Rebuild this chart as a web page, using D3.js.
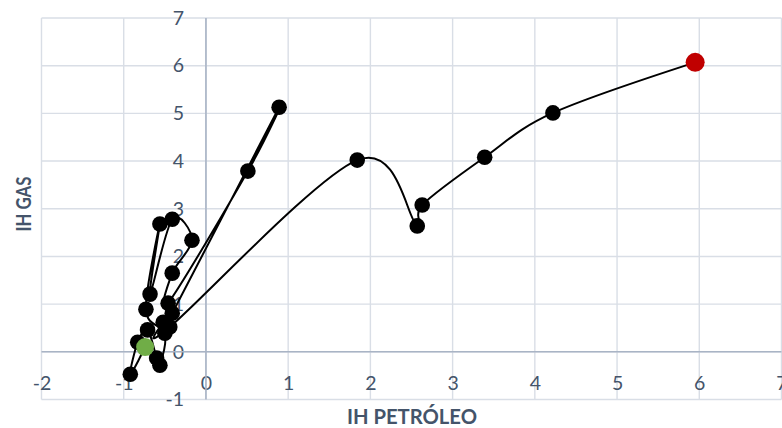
<!DOCTYPE html>
<html>
<head>
<meta charset="utf-8">
<script src="https://cdn.jsdelivr.net/npm/d3@7"></script>
<style>
  html, body { margin: 0; padding: 0; background: #ffffff; }
  svg { display: block; }
</style>
</head>
<body>
<svg id="chart" width="782" height="428"></svg>
<script>
// Trajectory of the two indices, in chronological order (first point green, last point red)
const ihPetroleo = [-0.74, -0.92, -0.83, -0.71, -0.60, -0.56, -0.50, -0.73, -0.56, -0.68,
                    -0.41, -0.17, -0.41, -0.46, 0.51, 0.89, -0.41, -0.52, -0.44,
                    1.84, 2.57, 2.63, 3.39, 4.22, 5.95];
const ihGas      = [0.10, -0.47, 0.20, 0.46, -0.13, -0.28, 0.39, 0.89, 2.68, 1.21,
                    2.78, 2.34, 1.65, 1.02, 3.79, 5.13, 0.81, 0.62, 0.52,
                    4.02, 2.64, 3.08, 4.08, 5.01, 6.07];

const xTicks = [-2, -1, 0, 1, 2, 3, 4, 5, 6, 7];
const yTicks = [-1, 0, 1, 2, 3, 4, 5, 6, 7];

const xTitle = "IH PETRÓLEO";
const yTitle = "IH GAS";

const points = ihPetroleo.map((x, i) => ({ x, y: ihGas[i] }));

const svg = d3.select("#chart");
const x = d3.scaleLinear().domain([-2, 7]).range([41.5, 781.5]);
const y = d3.scaleLinear().domain([-1, 7]).range([399.5, 18]);

const font = "Lato, 'Open Sans', sans-serif";
const textColor = "#44546A";
const gridColor = "#D9DEE6";
const axisColor = "#A9B4C5";

// Gridlines
svg.append("g").selectAll("line.v").data(xTicks).join("line")
  .attr("x1", d => x(d)).attr("x2", d => x(d))
  .attr("y1", y(7)).attr("y2", y(-1))
  .attr("stroke", gridColor).attr("stroke-width", 1.4);
svg.append("g").selectAll("line.h").data(yTicks).join("line")
  .attr("x1", x(-2)).attr("x2", x(7))
  .attr("y1", d => y(d)).attr("y2", d => y(d))
  .attr("stroke", gridColor).attr("stroke-width", 1.4);

// Axes crossing at the origin
const xAxis = svg.append("g")
  .attr("transform", `translate(0,${y(0)})`)
  .call(d3.axisBottom(x).tickValues(xTicks).tickSize(0).tickPadding(24).tickFormat(d3.format("d")));
const yAxis = svg.append("g")
  .attr("transform", `translate(${x(0)},0)`)
  .call(d3.axisLeft(y).tickValues(yTicks).tickSize(0).tickPadding(22).tickFormat(d3.format("d")));

[xAxis, yAxis].forEach(g => {
  g.select(".domain").remove();
  g.selectAll("text")
    .attr("fill", textColor)
    .style("font-family", font)
    .style("font-size", "19.5px");
});
xAxis.selectAll("text").text(d => d < 0 ? "-" + Math.abs(d) : d);
yAxis.selectAll("text").text(d => d < 0 ? "-" + Math.abs(d) : d);

svg.append("line")
  .attr("x1", x(-2)).attr("x2", x(7)).attr("y1", y(0)).attr("y2", y(0))
  .attr("stroke", axisColor).attr("stroke-width", 1.6);
svg.append("line")
  .attr("x1", x(0)).attr("x2", x(0)).attr("y1", y(7)).attr("y2", y(-1))
  .attr("stroke", axisColor).attr("stroke-width", 1.6);

// Smoothed trajectory
const line = d3.line()
  .x(d => x(d.x)).y(d => y(d.y))
  .curve(d3.curveCatmullRom.alpha(0));
svg.append("path")
  .datum(points)
  .attr("d", line)
  .attr("fill", "none")
  .attr("stroke", "#000000")
  .attr("stroke-width", 2);

// Markers
svg.append("g").selectAll("circle").data(points.slice(1, -1)).join("circle")
  .attr("cx", d => x(d.x)).attr("cy", d => y(d.y))
  .attr("r", 7.8).attr("fill", "#000000");
svg.append("circle")
  .attr("cx", x(points[0].x)).attr("cy", y(points[0].y))
  .attr("r", 9).attr("fill", "#70AD47");
svg.append("circle")
  .attr("cx", x(points[points.length - 1].x)).attr("cy", y(points[points.length - 1].y))
  .attr("r", 9.5).attr("fill", "#C00000");

// Axis titles
svg.append("text")
  .attr("x", 412).attr("y", 424)
  .attr("text-anchor", "middle")
  .attr("fill", textColor)
  .attr("textLength", 130).attr("lengthAdjust", "spacingAndGlyphs")
  .style("font-family", font).style("font-weight", "bold").style("font-size", "20.5px")
  .text(xTitle);
svg.append("text")
  .attr("transform", "translate(31,204) rotate(-90)")
  .attr("text-anchor", "middle")
  .attr("fill", textColor)
  .attr("textLength", 55).attr("lengthAdjust", "spacingAndGlyphs")
  .style("font-family", font).style("font-weight", "bold").style("font-size", "20.5px")
  .text(yTitle);
</script>
</body>
</html>
